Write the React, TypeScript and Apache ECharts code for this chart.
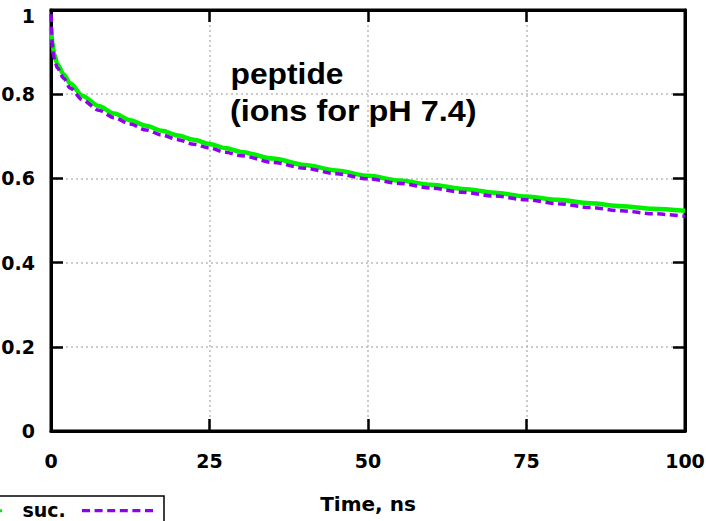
import React, { useEffect, useRef } from "react";
import * as echarts from "echarts";

const times = [0, 0.25, 0.5, 1, 2, 3, 5, 7.5, 10, 12.5, 15, 17.5, 20, 22.5, 25, 27.5, 30, 35, 40, 45, 50, 55, 60, 65, 70, 75, 80, 85, 90, 95, 100];
const controlValues = [0.955, 0.92, 0.895, 0.872, 0.847, 0.826, 0.796, 0.772, 0.754, 0.738, 0.725, 0.713, 0.702, 0.692, 0.682, 0.672, 0.663, 0.647, 0.632, 0.619, 0.606, 0.595, 0.585, 0.575, 0.566, 0.557, 0.549, 0.541, 0.534, 0.528, 0.523];
const sucValues = [0.99, 0.91, 0.885, 0.862, 0.838, 0.815, 0.786, 0.762, 0.744, 0.729, 0.715, 0.703, 0.692, 0.681, 0.672, 0.662, 0.654, 0.638, 0.624, 0.611, 0.599, 0.588, 0.577, 0.567, 0.558, 0.549, 0.54, 0.531, 0.523, 0.516, 0.51];
const seriesNames = ["control", "suc."];
const annotationLines = ["peptide", "(ions for pH 7.4)"];
const xTitle = "Time, ns";

const GREEN = "#00f000";
const PURPLE = "#9000f0";
const FONT = "DejaVu Sans";

export default function App() {
  const ref = useRef<HTMLDivElement>(null);
  useEffect(() => {
    if (!ref.current) return;
    const chart = echarts.init(ref.current, undefined, { renderer: "svg" });
    const labelStyle = { fontFamily: FONT, fontWeight: "bold" as const, fontSize: 19, color: "#000" };
    const axisLine = { show: true, onZero: false, lineStyle: { color: "#000", width: 3 } };
    const axisTick = { show: true, inside: true, length: 12, lineStyle: { color: "#000", width: 2.5 } };
    const splitLine = { show: true, lineStyle: { color: "#bbbbbb", width: 1.5, type: [2, 3] as any } };
    chart.setOption({
      animation: false,
      backgroundColor: "#fff",
      grid: {
        left: 51, top: 10, width: 634, height: 421,
        show: true, borderColor: "#000", borderWidth: 3,
        outerBoundsMode: "none",
        containLabel: false,
      },
      xAxis: [
        {
          type: "value", min: 0, max: 100, interval: 25, position: "bottom",
          axisLine, axisTick, splitLine,
          axisLabel: { ...labelStyle, margin: 20 },
          name: xTitle, nameLocation: "middle", nameGap: 63,
          nameTextStyle: { fontFamily: FONT, fontWeight: "bold", fontSize: 20, color: "#000" },
        },
        {
          type: "value", min: 0, max: 100, interval: 25, position: "top",
          axisLine, axisTick, splitLine: { show: false }, axisLabel: { show: false },
        },
      ],
      yAxis: [
        {
          type: "value", min: 0, max: 1, interval: 0.2, position: "left",
          axisLine, axisTick, splitLine,
          axisLabel: {
            ...labelStyle, margin: 16,
            formatter: (v: number) => (v === 1 ? "{t|1}" : String(Math.round(v * 10) / 10)),
            rich: { t: { ...labelStyle, padding: [12, 0, 0, 0] } },
          },
        },
        {
          type: "value", min: 0, max: 1, interval: 0.2, position: "right",
          axisLine, axisTick, splitLine: { show: false }, axisLabel: { show: false },
        },
      ],
      series: [
        {
          name: seriesNames[0], type: "line", xAxisIndex: 0, yAxisIndex: 0,
          data: times.map((t, i) => [t, controlValues[i]]),
          showSymbol: false, symbol: "none", smooth: 0.3, smoothMonotone: "x",
          lineStyle: { color: GREEN, width: 4.5 }, z: 3,
        },
        {
          name: seriesNames[1], type: "line", xAxisIndex: 0, yAxisIndex: 0,
          data: times.map((t, i) => [t, sucValues[i]]),
          showSymbol: false, symbol: "none", smooth: 0.3, smoothMonotone: "x",
          lineStyle: { color: PURPLE, width: 3.5, type: [8, 4.5] as any }, z: 4,
        },
      ],
      graphic: [
        {
          type: "text", x: 230.5, y: 73.5, scaleX: 1.06,
          style: { text: annotationLines[0], font: "bold 30px 'Liberation Sans'", fill: "#000", verticalAlign: "middle", align: "left" },
          z: 10,
        },
        {
          type: "text", x: 230, y: 110.8, scaleX: 1.08,
          style: { text: annotationLines[1], font: "bold 30px 'Liberation Sans'", fill: "#000", verticalAlign: "middle", align: "left" },
          z: 10,
        },
        {
          type: "rect", shape: { x: -20, y: 496, width: 184, height: 60 },
          style: { fill: "#fff", stroke: "#000", lineWidth: 1.5 }, z: 10,
        },
        {
          type: "line", shape: { x1: -20, y1: 510.7, x2: 2, y2: 510.7 },
          style: { stroke: GREEN, lineWidth: 3 }, z: 11,
        },
        {
          type: "text", x: 22.5, y: 519.5,
          style: { text: seriesNames[1], font: `bold 19px '${FONT}'`, fill: "#000", verticalAlign: "bottom", align: "left" },
          z: 11,
        },
        {
          type: "line", shape: { x1: 82, y1: 510.7, x2: 153, y2: 510.7 },
          style: { stroke: PURPLE, lineWidth: 3.3, lineDash: [8, 4.6] }, z: 11,
        },
      ],
    });
    return () => chart.dispose();
  }, []);
  return (
    <div
      ref={ref}
      style={{ position: "fixed", left: 0, top: 0, width: 706, height: 521, background: "#fff" }}
    />
  );
}
